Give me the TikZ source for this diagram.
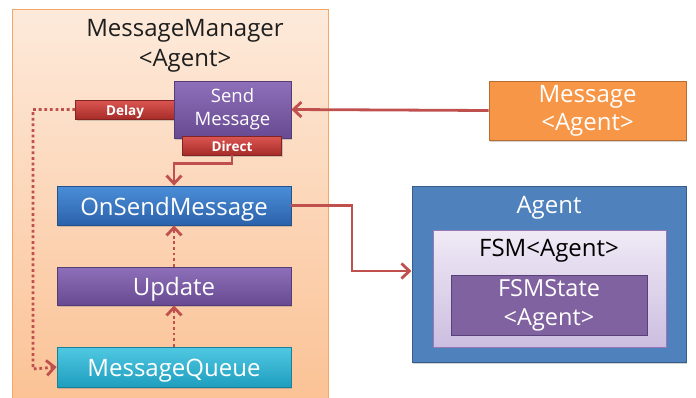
\documentclass[tikz,border=0pt]{standalone}
\usepackage{fontspec}
\setmainfont{Open Sans}
\usetikzlibrary{arrows.meta,shadows}
\definecolor{linered}{HTML}{C0504D}
\definecolor{mgrtop}{HTML}{FDEADB}
\definecolor{mgrbot}{HTML}{FBC295}
\definecolor{mgredge}{HTML}{F5A566}
\tikzset{
  x=1pt, y=-1pt,
  box/.style={draw, line width=0.8pt, inner sep=0pt, align=center, text=white,
    drop shadow={shadow xshift=1pt, shadow yshift=-1.5pt, opacity=0.35}},
  purplebox/.style={box, top color={rgb,255:red,142;green,112;blue,186},
    bottom color={rgb,255:red,104;green,74;blue,146}, draw={rgb,255:red,84;green,60;blue,120}},
  bluebox/.style={box, top color={rgb,255:red,74;green,142;blue,216},
    bottom color={rgb,255:red,44;green,98;blue,170}, draw={rgb,255:red,36;green,80;blue,140}},
  cyanbox/.style={box, top color={rgb,255:red,80;green,200;blue,226},
    bottom color={rgb,255:red,30;green,158;blue,190}, draw={rgb,255:red,26;green,128;blue,154}},
  tagbox/.style={box, font=\bfseries\fontsize{13.5}{15}\selectfont,
    top color={rgb,255:red,220;green,86;blue,82}, bottom color={rgb,255:red,166;green,44;blue,40},
    draw={rgb,255:red,130;green,36;blue,34}, minimum width=99pt, minimum height=19pt,
    text height=12pt, text depth=0pt},
  wide/.style={minimum width=234pt, font=\fontsize{24}{27}\selectfont,
    text height=19pt, text depth=0pt},
  redarrow/.style={draw=linered, line width=2.8pt, -{Straight Barb[length=8pt,width=15pt]}},
  dotarrow/.style={draw=linered, line width=2.8pt, dash pattern=on 2.8pt off 2.8pt,
    -{Straight Barb[length=8pt,width=15pt]}},
}
\begin{document}
\begin{tikzpicture}
\useasboundingbox (0,0) rectangle (696,397);
\fill[white] (0,0) rectangle (696,397);

% MessageManager container
\begin{scope}
\clip (0,0) rectangle (696,397);
\node[draw=mgredge, line width=0.8pt, top color=mgrtop, bottom color=mgrbot,
  minimum width=316pt, minimum height=392pt, inner sep=0pt] (manager) at (170,205) {};
\end{scope}
\node[align=center, font=\fontsize{24}{30}\selectfont, text={rgb,255:red,30;green,30;blue,30}] (mgrtitle) at (185,46) {MessageManager\\<Agent>};

% Tags and the SendMessage box
\node[tagbox] (delay) at (125,109.5) {Delay};
\node[purplebox, minimum width=117pt, minimum height=57pt, font=\fontsize{18.5}{23}\selectfont] (send) at (232.5,109.5) {Send\\Message};
\node[tagbox] (direct) at (232,145.5) {Direct};

% Processing chain
\node[bluebox, wide, minimum height=39pt] (onsend) at (174,205.5) {OnSendMessage};
\node[purplebox, wide, minimum height=38pt] (update) at (174,286) {Update};
\node[cyanbox, wide, minimum height=40pt] (queue) at (174,367) {MessageQueue};

% Incoming message
\node[box, fill={rgb,255:red,247;green,150;blue,70}, draw={rgb,255:red,182;green,109;blue,49},
  minimum width=197pt, minimum height=59pt, font=\fontsize{24}{28}\selectfont, drop shadow={opacity=0}] (msg) at (587.5,110.5) {Message\\<Agent>};

% Agent container
\node[draw={rgb,255:red,56;green,93;blue,138}, line width=1pt, fill={rgb,255:red,79;green,129;blue,189},
  minimum width=274pt, minimum height=176pt, inner sep=0pt,
  drop shadow={shadow xshift=1pt, shadow yshift=-1.5pt, opacity=0.35}] (agent) at (549,274) {};
\node[text=white, font=\fontsize{24}{27}\selectfont] (agenttitle) at (549,208) {Agent};
\node[draw={rgb,255:red,150;green,120;blue,180}, line width=0.6pt,
  top color={rgb,255:red,240;green,234;blue,246}, bottom color={rgb,255:red,204;green,190;blue,224},
  minimum width=233pt, minimum height=117pt, inner sep=0pt] (fsm) at (549.5,288.5) {};
\node[font=\fontsize{24}{27}\selectfont] (fsmtitle) at (549,251) {FSM<Agent>};
\node[draw={rgb,255:red,88;green,66;blue,120}, line width=1pt, fill={rgb,255:red,128;green,98;blue,160},
  text=white, align=center, minimum width=196pt, minimum height=60pt, inner sep=0pt,
  font=\fontsize{23.5}{29}\selectfont] (fsmstate) at (549,305) {FSMState\\<Agent>};

% Connectors
\draw[redarrow] (msg.west) -- (send.east);
\draw[redarrow] (direct.south) -- ++(0,8) -| (onsend.north);
\draw[dotarrow] (update.north) -- (onsend.south);
\draw[dotarrow] (queue.north) -- (update.south);
\draw[dotarrow] (delay.west) -| (33,369) -- (queue.west);
\draw[redarrow] (onsend.east) -| (352,271) -- (agent.west |- 0,271);
\end{tikzpicture}
\end{document}
